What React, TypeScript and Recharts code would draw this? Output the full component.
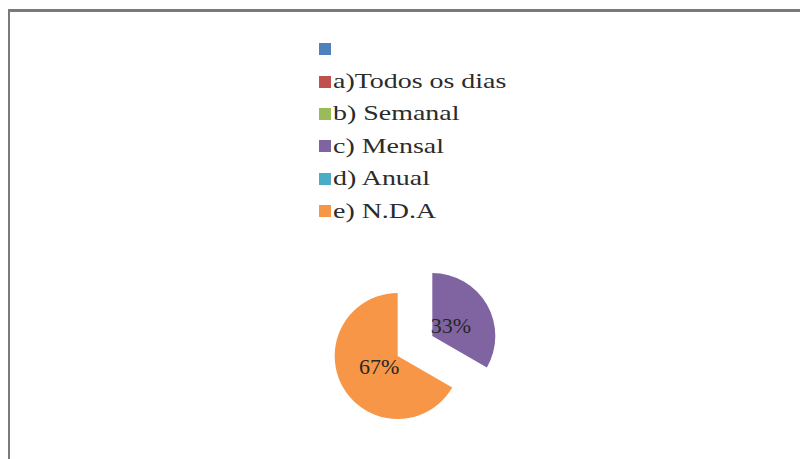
import React from 'react';
import { PieChart, Pie, Cell } from 'recharts';

// categories, values and colours
const categories = ['', 'a)Todos os dias', 'b) Semanal', 'c) Mensal', 'd) Anual', 'e) N.D.A'];
const values = [0, 0, 0, 1, 0, 2];
const colors = ['#4F81BD', '#C0504D', '#9BBB59', '#8064A2', '#4BACC6', '#F79646'];

const data = categories.map((name, i) => ({ name, value: values[i] }));
const total = values.reduce((s, v) => s + v, 0);

const CX = 405;
const CY = 334;
const R = 63;
const EXPLODE = 20;
const RAD = Math.PI / 180;
const SERIF = "'Liberation Serif', 'Times New Roman', serif";

// one pie per non-zero slice, shifted out along the slice's bisector (Excel "exploded" look)
const exploded = values
  .map((v, i) => {
    const before = values.slice(0, i).reduce((s, x) => s + x, 0);
    const mid = 90 - (360 * before) / total - (180 * v) / total;
    return {
      index: i,
      value: v,
      dx: EXPLODE * Math.cos(mid * RAD),
      dy: -EXPLODE * Math.sin(mid * RAD),
    };
  })
  .filter((s) => s.value > 0);

const makeLabel = (visible: number) => (props: any) => {
  const { cx, cy, midAngle, outerRadius, percent, index } = props;
  if (index !== visible) return null;
  const r = outerRadius * 0.34;
  const x = cx + r * Math.cos(-midAngle * RAD);
  const y = cy + r * Math.sin(-midAngle * RAD);
  return (
    <text
      x={x}
      y={y}
      textAnchor="middle"
      dominantBaseline="central"
      fill="#262626"
      fontSize={22}
      fontFamily={SERIF}
    >
      {`${Math.round(percent * 100)}%`}
    </text>
  );
};

export default function App() {
  return (
    <div
      style={{
        position: 'relative',
        width: 800,
        height: 447,
        marginTop: 1,
        borderTop: '3px solid #7a7a7a',
        borderLeft: '2px solid #7a7a7a',
        background: '#fff',
      }}
    >
      <PieChart width={798} height={447} margin={{ top: 0, right: 0, bottom: 0, left: 0 }}>
        {exploded.map((s) => (
          <Pie
            key={s.index}
            data={data}
            dataKey="value"
            nameKey="name"
            cx={CX + s.dx}
            cy={CY + s.dy}
            outerRadius={R}
            startAngle={90}
            endAngle={-270}
            stroke="none"
            labelLine={false}
            label={makeLabel(s.index)}
            isAnimationActive={false}
          >
            {data.map((d, i) => (
              <Cell key={i} fill={i === s.index ? colors[i] : 'transparent'} />
            ))}
          </Pie>
        ))}
      </PieChart>

      <div style={{ position: 'absolute', left: 309, top: 21 }}>
        {categories.map((c, i) => (
          <div
            key={i}
            style={{ height: 32.4, display: 'flex', alignItems: 'center', whiteSpace: 'nowrap' }}
          >
            <span style={{ width: 12, height: 12, background: colors[i], marginRight: 2, flex: 'none' }} />
            <span
              style={{
                display: 'inline-block',
                fontFamily: SERIF,
                fontSize: 21,
                color: '#2b2b2b',
                transform: 'scaleX(1.33)',
                transformOrigin: 'left center',
              }}
            >
              {c}
            </span>
          </div>
        ))}
      </div>
    </div>
  );
}
